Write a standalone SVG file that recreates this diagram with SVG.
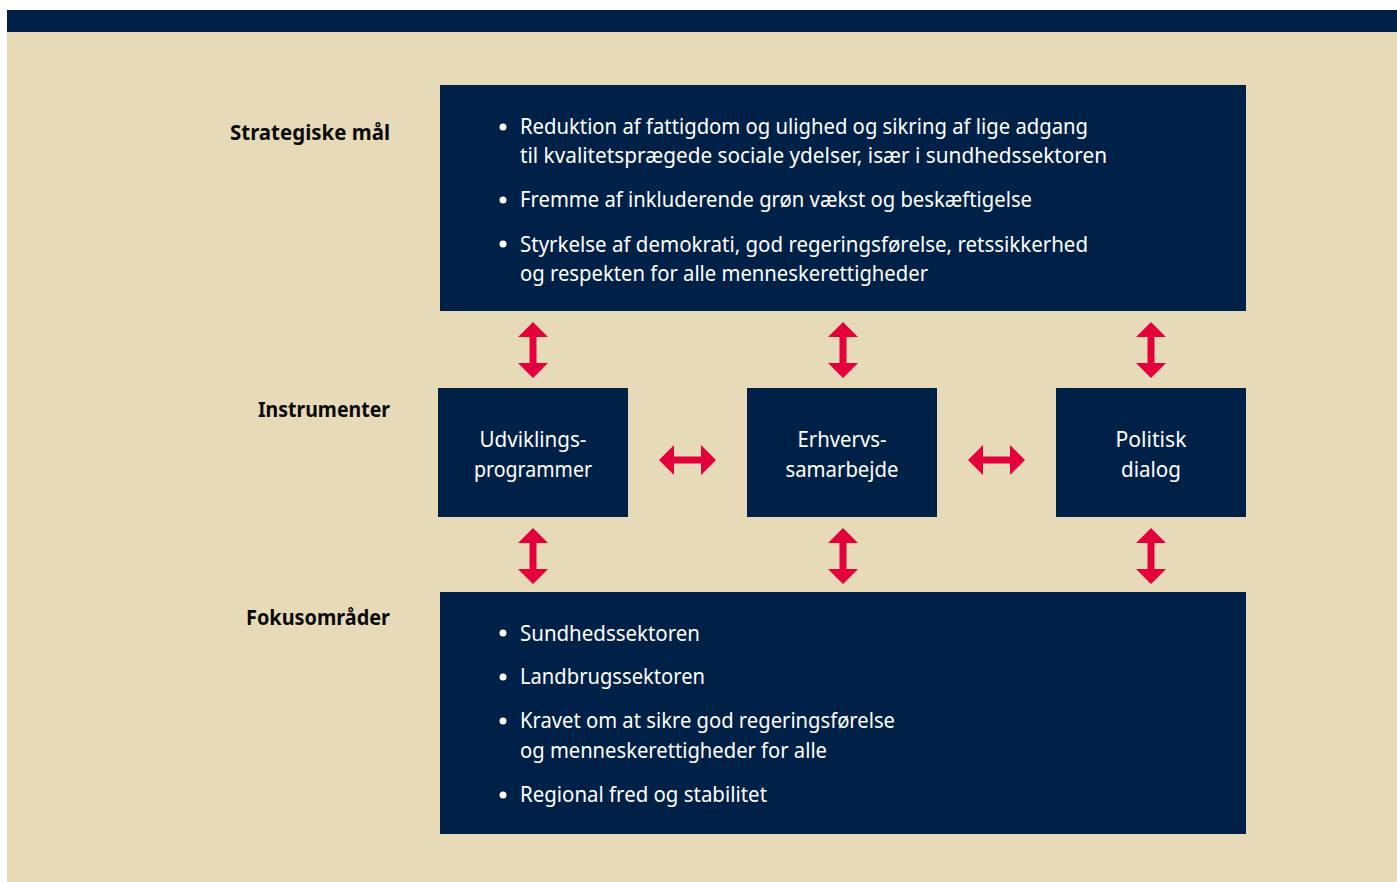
<svg xmlns="http://www.w3.org/2000/svg" xmlns:xlink="http://www.w3.org/1999/xlink" width="1397" height="882" viewBox="0 0 1397 882">
<style>
.box{fill:#002147}
.lbl{font-family:"Noto Sans","Liberation Sans",sans-serif;font-weight:bold;font-size:22px;fill:#0a0a0a;text-anchor:end}
.t{font-family:"Noto Sans","Liberation Sans",sans-serif;font-size:21px;fill:#ffffff}
.c{font-family:"Noto Sans","Liberation Sans",sans-serif;font-size:21px;fill:#ffffff;text-anchor:middle}
.arr{fill:#e4003b}
.dot{fill:#ffffff}
</style>
<defs>
<path id="va" d="M0,-28 L15,-13 L3.5,-13 L3.5,13 L15,13 L0,28 L-15,13 L-3.5,13 L-3.5,-13 L-15,-13 Z"/>
<path id="ha" d="M-28.5,0 L-13.5,-15 L-13.5,-3.5 L13.5,-3.5 L13.5,-15 L28.5,0 L13.5,15 L13.5,3.5 L-13.5,3.5 L-13.5,15 Z"/>
</defs>
<rect x="0" y="0" width="1397" height="882" fill="#ffffff"/>
<rect x="7" y="10" width="1390" height="872" fill="#e7dab8"/>
<rect x="7" y="10" width="1390" height="22" fill="#002147"/>

<g id="labels">
<text class="lbl" x="390" y="140" textLength="160" lengthAdjust="spacingAndGlyphs">Strategiske mål</text>
<text class="lbl" x="390" y="417" textLength="132" lengthAdjust="spacingAndGlyphs">Instrumenter</text>
<text class="lbl" x="390" y="625" textLength="144" lengthAdjust="spacingAndGlyphs">Fokusområder</text>
</g>

<g id="strategiske">
<rect class="box" x="440" y="85" width="806" height="226"/>
<circle class="dot" cx="503" cy="127" r="3.5"/>
<text class="t" x="520" y="134" textLength="568" lengthAdjust="spacingAndGlyphs">Reduktion af fattigdom og ulighed og sikring af lige adgang</text>
<text class="t" x="520" y="163" textLength="587" lengthAdjust="spacingAndGlyphs">til kvalitetsprægede sociale ydelser, især i sundhedssektoren</text>
<circle class="dot" cx="503" cy="200" r="3.5"/>
<text class="t" x="520" y="207" textLength="512" lengthAdjust="spacingAndGlyphs">Fremme af inkluderende grøn vækst og beskæftigelse</text>
<circle class="dot" cx="503" cy="244" r="3.5"/>
<text class="t" x="520" y="252" textLength="568" lengthAdjust="spacingAndGlyphs">Styrkelse af demokrati, god regeringsførelse, retssikkerhed</text>
<text class="t" x="520" y="281" textLength="408" lengthAdjust="spacingAndGlyphs">og respekten for alle menneskerettigheder</text>
</g>

<g id="udvikling">
<rect class="box" x="438" y="388" width="190" height="129"/>
<text class="c" x="533" y="447" textLength="107" lengthAdjust="spacingAndGlyphs">Udviklings-</text>
<text class="c" x="533" y="477" textLength="118" lengthAdjust="spacingAndGlyphs">programmer</text>
</g>
<g id="erhverv">
<rect class="box" x="747" y="388" width="190" height="129"/>
<text class="c" x="842" y="447" textLength="89" lengthAdjust="spacingAndGlyphs">Erhvervs-</text>
<text class="c" x="842" y="477" textLength="113" lengthAdjust="spacingAndGlyphs">samarbejde</text>
</g>
<g id="politisk">
<rect class="box" x="1056" y="388" width="190" height="129"/>
<text class="c" x="1151" y="447" textLength="71" lengthAdjust="spacingAndGlyphs">Politisk</text>
<text class="c" x="1151" y="477" textLength="60" lengthAdjust="spacingAndGlyphs">dialog</text>
</g>

<g id="fokus">
<rect class="box" x="440" y="592" width="806" height="242"/>
<circle class="dot" cx="503" cy="633" r="3.5"/>
<text class="t" x="520" y="641" textLength="180" lengthAdjust="spacingAndGlyphs">Sundhedssektoren</text>
<circle class="dot" cx="503" cy="677" r="3.5"/>
<text class="t" x="520" y="684" textLength="185" lengthAdjust="spacingAndGlyphs">Landbrugssektoren</text>
<circle class="dot" cx="503" cy="721" r="3.5"/>
<text class="t" x="520" y="728" textLength="375" lengthAdjust="spacingAndGlyphs">Kravet om at sikre god regeringsførelse</text>
<text class="t" x="520" y="758" textLength="307" lengthAdjust="spacingAndGlyphs">og menneskerettigheder for alle</text>
<circle class="dot" cx="503" cy="795" r="3.5"/>
<text class="t" x="520" y="802" textLength="247" lengthAdjust="spacingAndGlyphs">Regional fred og stabilitet</text>
</g>

<g id="connectors" class="arr">
<use href="#va" xlink:href="#va" x="533" y="350"/>
<use href="#va" xlink:href="#va" x="843" y="350"/>
<use href="#va" xlink:href="#va" x="1151" y="350"/>
<use href="#va" xlink:href="#va" x="533" y="556"/>
<use href="#va" xlink:href="#va" x="843" y="556"/>
<use href="#va" xlink:href="#va" x="1151" y="556"/>
<use href="#ha" xlink:href="#ha" x="687.5" y="460"/>
<use href="#ha" xlink:href="#ha" x="996.5" y="460"/>
</g>
</svg>
